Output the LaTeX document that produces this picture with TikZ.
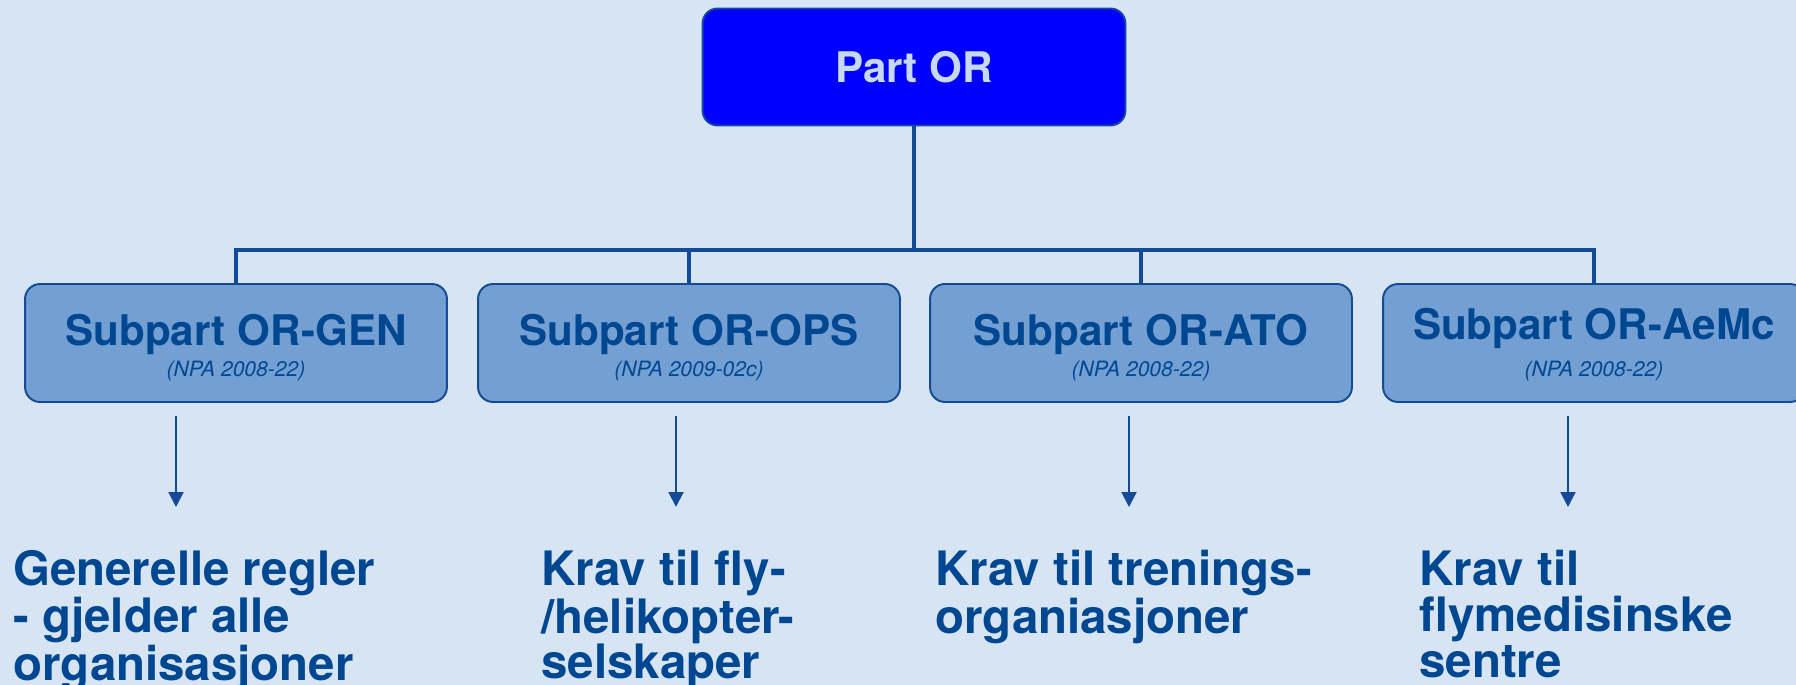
\documentclass[tikz,border=0pt]{standalone}
\usepackage{fontspec}
\setmainfont{TeX Gyre Heros}
\usepackage{tikz}
\usetikzlibrary{positioning}
\usetikzlibrary{arrows.meta}
\definecolor{bgblue}{RGB}{215,228,243}
\definecolor{boxblue}{RGB}{115,159,211}
\definecolor{navy}{RGB}{0,71,145}
\definecolor{lineblue}{RGB}{20,74,150}
\definecolor{paleblue}{RGB}{198,217,241}

\tikzset{
 mainbox/.style={draw=lineblue, line width=1.1pt, fill=blue, rounded corners=0.3cm, minimum width=8.46cm, minimum height=2.34cm, inner sep=0pt},
 subbox/.style={draw=lineblue, line width=1.1pt, fill=boxblue, rounded corners=0.3cm, minimum width=8.44cm, minimum height=2.36cm},
 treeline/.style={lineblue, line width=2.8pt},
 downarrow/.style={lineblue, line width=1.2pt, -{Triangle[length=0.3cm,width=0.3cm]}},
 headtxt/.style={font=\fontsize{24}{28}\selectfont\bfseries, text=navy, inner sep=0pt},
 notetxt/.style={font=\fontsize{12}{14}\selectfont\itshape, text=navy, inner sep=0pt},
 roletxt/.style={font=\fontsize{27}{26}\selectfont\bfseries, text=navy, align=left, inner sep=0pt}
}

\begin{document}
\begin{tikzpicture}[x=0.02cm, y=-0.02cm]

\fill[bgblue] (0,0) rectangle (1796,685);
\clip (0,0) rectangle (1796,685);

% top box
\node[mainbox, text=paleblue, font=\fontsize{24}{28}\selectfont\bfseries] (partor) at (914,67) {Part OR};
\coordinate (hub) at (914,250);

% subparts
\node[subbox] (gen) at (236,343) {};
\node[headtxt, anchor=base] (genhead) at (236,346) {Subpart OR-GEN};
\node[notetxt, anchor=base] (gennote) at (236,377) {(NPA 2008-22)};

\node[subbox] (ops) at (689,343) {};
\node[headtxt, anchor=base] (opshead) at (689,346) {Subpart OR-OPS};
\node[notetxt, anchor=base] (opsnote) at (689,377) {(NPA 2009-02c)};

\node[subbox] (ato) at (1141,343) {};
\node[headtxt, anchor=base] (atohead) at (1141,346) {Subpart OR-ATO};
\node[notetxt, anchor=base] (atonote) at (1141,377) {(NPA 2008-22)};

\node[subbox] (aemc) at (1594,343) {};
\node[headtxt, anchor=base] (aemchead) at (1594,340) {Subpart OR-AeMc};
\node[notetxt, anchor=base] (aemcnote) at (1594,377) {(NPA 2008-22)};

% tree lines
\draw[treeline] (partor.south) -- (hub);
\draw[treeline] (gen.north) |- (hub);
\draw[treeline] (ops.north) |- (hub);
\draw[treeline] (ato.north) |- (hub);
\draw[treeline] (aemc.north) |- (hub);

% arrows
\coordinate (gena) at (176,416);
\coordinate (genb) at (176,507);
\draw[downarrow] (gena) -- (genb);

\coordinate (opsa) at (676,416);
\coordinate (opsb) at (676,507);
\draw[downarrow] (opsa) -- (opsb);

\coordinate (atoa) at (1129,416);
\coordinate (atob) at (1129,507);
\draw[downarrow] (atoa) -- (atob);

\coordinate (aemca) at (1568,416);
\coordinate (aemcb) at (1568,507);
\draw[downarrow] (aemca) -- (aemcb);

% descriptions
\node[roletxt, anchor=north west] (gentxt) at (13,550) {Generelle regler\\- gjelder alle\\organisasjoner};
\node[roletxt, anchor=north west] (opstxt) at (541,550) {Krav til fly-\\/helikopter-\\selskaper};
\node[roletxt, anchor=north west] (atotxt) at (935,550) {Krav til trenings-\\organiasjoner};
\node[roletxt, anchor=north west] (aemctxt) at (1419,550) {Krav til\\flymedisinske\\sentre};

\end{tikzpicture}
\end{document}
